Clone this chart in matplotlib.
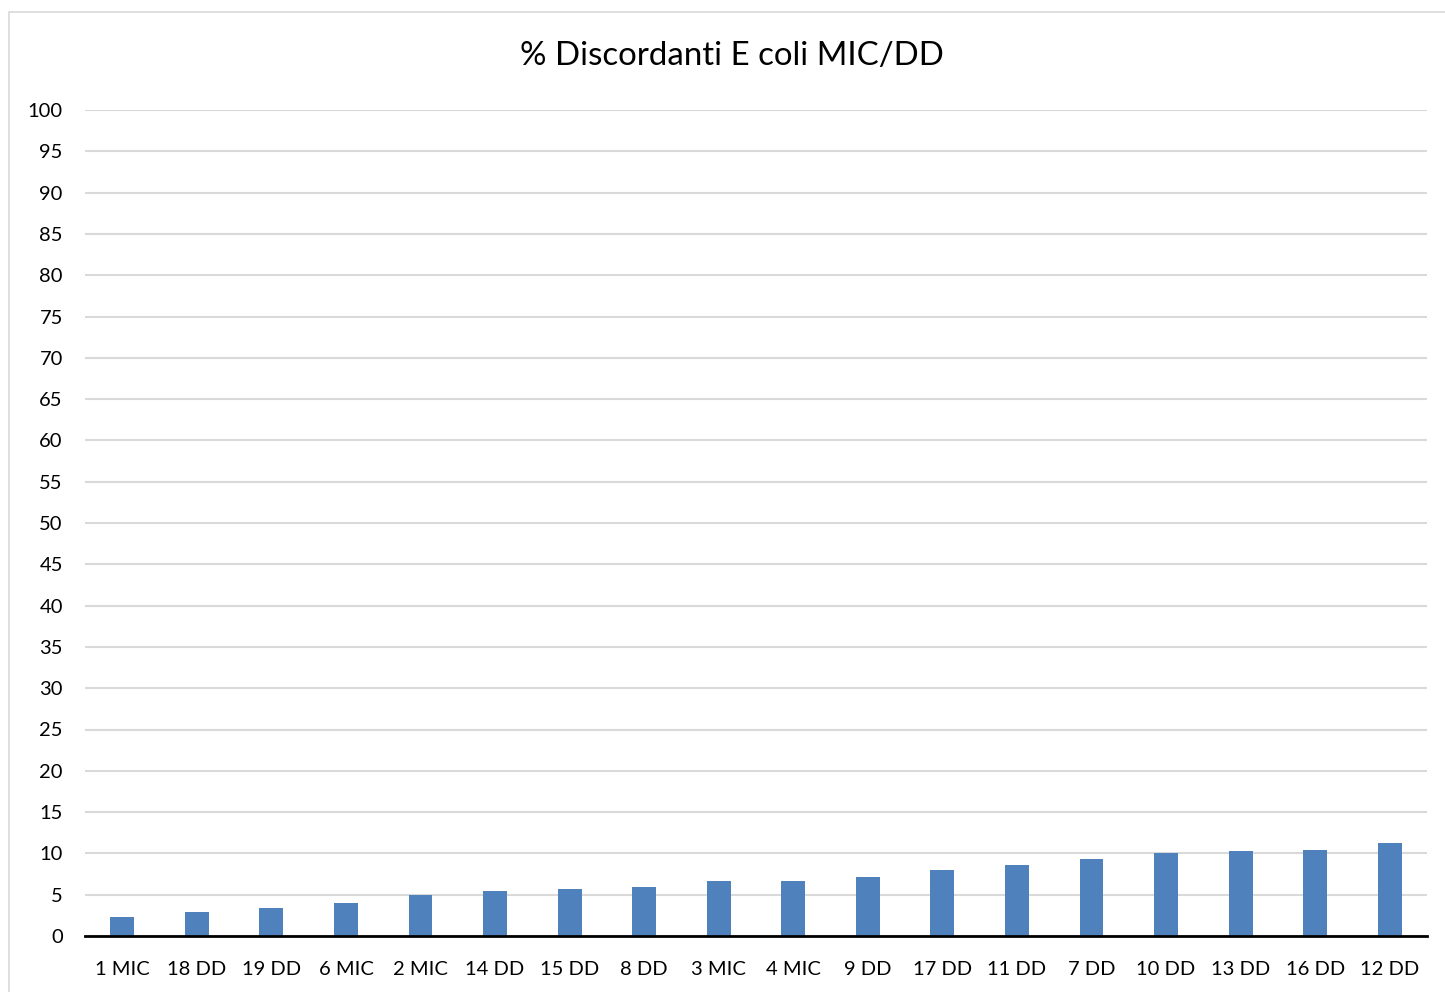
import matplotlib.pyplot as plt
from matplotlib.patches import Rectangle

categories = ["1 MIC", "18 DD", "19 DD", "6 MIC", "2 MIC", "14 DD", "15 DD", "8 DD", "3 MIC",
              "4 MIC", "9 DD", "17 DD", "11 DD", "7 DD", "10 DD", "13 DD", "16 DD", "12 DD"]
values = [2.3, 2.85, 3.33, 4.0, 5.0, 5.5, 5.65, 5.9, 6.67,
          6.67, 7.15, 8.0, 8.6, 9.3, 10.0, 10.3, 10.45, 11.2]
yticks = list(range(0, 101, 5))

plt.rcParams['font.family'] = ['Lato', 'DejaVu Sans']

fig = plt.figure(figsize=(14.45, 9.92), dpi=100)
fig.patches.append(Rectangle((9 / 1445, -0.01), 1.1, 1 - 12 / 992 + 0.01, transform=fig.transFigure,
                             fill=False, edgecolor="#d9d9d9", linewidth=1.2))
ax = fig.add_axes([85 / 1445, 1 - 936 / 992, (1427 - 85) / 1445, (936 - 110) / 992])

x = range(len(categories))
ax.bar(x, values, width=0.32, color="#4f81bd", zorder=3)

ax.set_xlim(-0.5, len(categories) - 0.5)
ax.set_ylim(0, 100)
ax.set_yticks(yticks)
ax.set_xticks(list(x))
ax.set_xticklabels(categories, fontsize=14.5)
ax.tick_params(axis="y", labelsize=14.5, length=0, pad=16)
ax.tick_params(axis="x", length=0, pad=18)

ax.grid(axis="y", color="#d9d9d9", linewidth=1.5, zorder=0)
for side in ["top", "right", "left"]:
    ax.spines[side].set_visible(False)
ax.spines["bottom"].set_color("black")
ax.spines["bottom"].set_linewidth(2)
ax.spines["bottom"].set_zorder(4)

fig.text(732 / 1445, 1 - 56 / 992, "% Discordanti E coli MIC/DD", ha="center", va="center", fontsize=23.8)

fig.savefig("out.png", dpi=100)
